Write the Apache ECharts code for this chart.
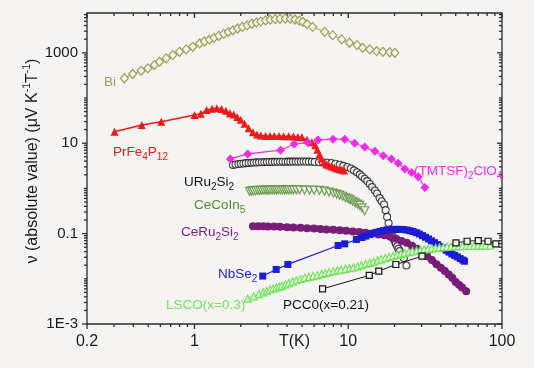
<!DOCTYPE html>
<html><head><meta charset="utf-8">
<script src="https://cdn.jsdelivr.net/npm/echarts@6/dist/echarts.min.js"></script>
<style>html,body{margin:0;padding:0;background:#f5f4f2;}#c{width:534px;height:368px;}</style>
</head><body><div id="c"></div>
<script>
// ---- data: [T (K), |nu| (uV K^-1 T^-1)] ----
const bi = [[0.35,273],[0.396,340],[0.45,401],[0.497,453],[0.548,536],[0.592,634],[0.654,753],[0.723,891],[0.799,1054],[0.883,1190],[0.975,1358],[1.08,1610],[1.16,1780],[1.25,1950],[1.34,2150],[1.44,2380],[1.55,2620],[1.66,2880],[1.78,3150],[1.91,3450],[2.05,3750],[2.2,4050],[2.36,4400],[2.53,4700],[2.7,4950],[2.9,5200],[3.1,5400],[3.35,5550],[3.6,5650],[3.9,5700],[4.2,5650],[4.5,5450],[4.8,5150],[5.06,4850],[5.4,4300],[5.87,3750],[7.03,2910],[7.93,2460],[9.07,1980],[10.2,1670],[11.4,1480],[12.4,1290],[13.8,1190],[15.3,1090],[16.8,1054],[18.6,1030],[20.1,1000]];
const prFe4P12 = [[0.302,18],[0.454,25.4],[0.608,30],[1.0,42],[1.1,45],[1.2,54],[1.3,58],[1.4,59],[1.5,57],[1.6,52],[1.7,46],[1.8,43],[1.9,38],[2.0,33],[2.12,27],[2.25,21.5],[2.4,17.5],[2.55,15.5],[2.7,14.8],[2.9,14.5],[3.1,14.5],[3.3,14.5],[3.55,14.4],[3.8,14.3],[4.1,14.2],[4.4,14],[4.7,13.8],[5.0,13.5],[5.4,12],[5.8,10.5],[6.1,9],[6.3,7.2],[6.5,5.6],[6.7,4.6],[6.95,3.8],[7.2,3.4],[7.5,3.2],[7.8,3.05],[8.1,2.9],[8.4,2.75],[8.75,2.65],[9.1,2.58],[9.4,2.5]];
const tmtsf = [[1.71,4.5],[2.22,5.8],[3.63,7.0],[4.45,9.6],[5.46,10.2],[6.36,11.8],[7.96,12.3],[9.48,12.3],[11.0,10],[12.8,8.2],[14.9,6.6],[16.9,5.3],[19.1,4.5],[21.1,3.6],[23.3,2.7],[25.8,2.25],[28.5,1.82],[31.5,1.05]];
const uru2si2 = [[1.78,3.3],[1.85,3.38],[1.93,3.46],[2.0,3.52],[2.08,3.57],[2.16,3.62],[2.25,3.66],[2.34,3.7],[2.43,3.73],[2.53,3.76],[2.63,3.78],[2.74,3.8],[2.85,3.82],[2.96,3.84],[3.08,3.85],[3.2,3.86],[3.33,3.87],[3.46,3.88],[3.6,3.89],[3.75,3.9],[3.9,3.9],[4.05,3.91],[4.2,3.91],[4.37,3.92],[4.55,3.92],[4.73,3.92],[4.92,3.93],[5.12,3.93],[5.32,3.93],[5.55,3.92],[5.8,3.9],[6.05,3.85],[6.45,3.8],[6.85,3.75],[7.3,3.7],[7.77,3.64],[8.25,3.5],[8.8,3.34],[9.3,3.15],[9.87,2.97],[10.4,2.75],[10.9,2.5],[11.4,2.28],[11.9,2.04],[12.3,1.84],[12.8,1.64],[13.3,1.45],[13.8,1.25],[14.3,1.07],[14.9,0.9],[15.4,0.77],[16.0,0.61],[16.5,0.52],[17.1,0.44],[17.5,0.33],[17.9,0.234],[18.3,0.17],[18.6,0.123],[19.0,0.1],[19.4,0.087],[19.7,0.077],[20.1,0.068],[20.4,0.06],[20.8,0.0526],[21.2,0.046],[21.6,0.041],[22.3,0.034],[23.0,0.029],[23.9,0.0197]];
const cecoin5 = [[2.28,0.86],[2.35,0.87],[2.42,0.88],[2.5,0.89],[2.58,0.9],[2.66,0.9],[2.74,0.91],[2.83,0.91],[2.92,0.92],[3.01,0.92],[3.1,0.92],[3.2,0.93],[3.3,0.93],[3.4,0.93],[3.5,0.93],[3.62,0.93],[3.74,0.93],[3.86,0.93],[3.98,0.93],[4.1,0.93],[4.25,0.93],[4.4,0.93],[4.6,0.93],[4.83,0.93],[5.2,0.92],[5.6,0.92],[6.0,0.91],[6.5,0.9],[7.0,0.87],[7.5,0.83],[8.0,0.79],[8.4,0.75],[8.8,0.71],[9.2,0.67],[9.6,0.62],[10.0,0.59],[10.3,0.56],[10.7,0.52],[11.1,0.48],[11.5,0.45],[11.9,0.42],[12.3,0.37],[12.8,0.32]];
const ceru2si2 = [[2.4,0.145],[2.6,0.146],[2.8,0.145],[3.0,0.144],[3.3,0.143],[3.6,0.141],[4.0,0.139],[4.4,0.137],[4.9,0.135],[5.4,0.132],[6.0,0.129],[6.6,0.126],[7.2,0.123],[8.0,0.121],[8.8,0.119],[9.7,0.116],[10.7,0.112],[11.8,0.108],[13.0,0.104],[14.3,0.1],[15.7,0.096],[17.2,0.092],[18.8,0.085],[20.5,0.077],[22.2,0.069],[24.0,0.0625],[26.0,0.054],[28.0,0.046],[30.2,0.039],[32.5,0.0316],[35,0.026],[37.5,0.021],[40,0.0175],[42.5,0.0148],[45,0.0125],[47.5,0.0105],[50,0.0085],[52.5,0.0074],[55,0.0064],[58.5,0.0053]];
const nbse2 = [[2.78,0.0115],[3.40,0.0161],[4.05,0.0208],[8.59,0.0545],[9.48,0.0594],[11.3,0.074],[12.3,0.082],[13.0,0.088],[13.8,0.095],[14.5,0.101],[15.3,0.107],[16.1,0.112],[17.0,0.117],[17.9,0.121],[18.8,0.123],[19.8,0.124],[20.8,0.124],[21.8,0.124],[22.9,0.123],[24.0,0.12],[25.2,0.116],[26.4,0.111],[27.7,0.105],[29.0,0.098],[30.4,0.09],[31.8,0.083],[33.3,0.076],[34.8,0.069],[36.4,0.063],[38.1,0.057],[39.8,0.052],[41.5,0.048],[43.3,0.043],[45.2,0.039],[47.2,0.0355],[49.2,0.033],[51.3,0.0305],[53.5,0.028],[55.6,0.026],[57,0.0245]];
const lsco = [[2.22,0.00363],[2.42,0.0041],[2.62,0.0046],[2.8,0.005],[2.95,0.0054],[3.1,0.0058],[3.25,0.0061],[3.4,0.0064],[3.55,0.0067],[3.7,0.007],[3.9,0.0075],[4.1,0.008],[4.35,0.0087],[4.6,0.0093],[4.9,0.0099],[5.2,0.0105],[5.55,0.011],[5.9,0.0115],[6.3,0.012],[6.7,0.0127],[7.1,0.0134],[7.5,0.014],[8.0,0.0148],[8.5,0.0154],[9.0,0.016],[9.6,0.0166],[10.2,0.0172],[10.8,0.0178],[11.5,0.0188],[12.2,0.02],[13.0,0.0213],[13.8,0.0226],[14.6,0.024],[15.5,0.0255],[16.4,0.027],[17.4,0.0287],[18.5,0.0305],[19.6,0.0323],[20.8,0.034],[22,0.0357],[23.3,0.0373],[24.7,0.039],[26.2,0.0405],[27.8,0.042],[29.5,0.0435],[31.2,0.0448],[33,0.046],[35,0.0472],[37,0.0483],[39.2,0.0493],[41.5,0.0502],[44,0.051],[46.6,0.0517],[49.4,0.0522],[52.3,0.0527],[55.4,0.053],[58.7,0.0533],[62.2,0.0536],[65.9,0.0538],[69.8,0.054],[74,0.0542],[78.4,0.0543],[83.6,0.0545]];
const pcc0 = [[6.81,0.006],[13.7,0.0119],[15.8,0.0148],[20.4,0.0207],[30.2,0.0316],[50.2,0.0625],[59.3,0.0678],[70.1,0.070],[81.1,0.0678],[91.2,0.0594]];

// ---- axes ----
const xTickValues = [0.2, 1, 10, 100];
const xTickLabels = ['0.2', '1', '10', '100'];
const yTickValues = [0.001, 0.1, 10, 1000];
const yTickLabels = ['1E-3', '0.1', '10', '1000'];
const xMinorTicks = [0.3,0.4,0.5,0.6,0.7,0.8,0.9,2,3,4,5,6,7,8,9,20,30,40,50,60,70,80,90];
const yMinorTicks = [0.002,0.003,0.004,0.005,0.006,0.007,0.008,0.009,0.01,0.02,0.03,0.04,0.05,0.06,0.07,0.08,0.09,
  0.2,0.3,0.4,0.5,0.6,0.7,0.8,0.9,1,2,3,4,5,6,7,8,9,20,30,40,50,60,70,80,90,100,200,300,400,500,600,700,800,900,
  2000,3000,4000,5000,6000,7000];
const X_MIN = 0.2, X_MAX = 100, Y_MIN = 0.001, Y_MAX = 7600;

const FONT = "'Liberation Sans', Arial, Helvetica, sans-serif";
const BG = '#f5f4f2';
const AX = '#2b2b2b';
const C = {bi:'#a19d4f', pr:'#ec1b1b', tm:'#f02ce6', uru:'#141414', cc:'#4f8b30', cr:'#7a1d79',
  nb:'#1c1cd8', lsco:'#6de654', pcc:'#141414'};
const GRID = {left: 87, right: 32, top: 13, bottom: 44};
const W = 534, H = 368;

function fmt(vals, labs) {
  return function (v) {
    for (let i = 0; i < vals.length; i++) {
      if (Math.abs(Math.log10(v / vals[i])) < 1e-6) return labs[i];
    }
    return '';
  };
}

function ser(type, name, data, color, symbol, size, open, lw, rot) {
  return {
    type: type, name: name, data: data, symbol: symbol, symbolSize: size,
    symbolRotate: rot || 0, showSymbol: true, animation: false, silent: true,
    itemStyle: {color: open ? BG : color, borderColor: color, borderWidth: open ? 1.2 : 0},
    lineStyle: {color: color, width: lw}
  };
}

const annRich = {
  n: {fontSize: 13.5, lineHeight: 20, fontFamily: FONT},
  s: {fontSize: 10, lineHeight: 8, verticalAlign: 'bottom', fontFamily: FONT}
};
const annotations = [
  {text: '{n|Bi}', x: 104, y: 82.5, color: C.bi},
  {text: '{n|PrFe}{s|4}{n|P}{s|12}', x: 113, y: 152, color: C.pr},
  {text: '{n|(TMTSF)}{s|2}{n|ClO}{s|4}', x: 414, y: 171.5, color: C.tm},
  {text: '{n|URu}{s|2}{n|Si}{s|2}', x: 184, y: 182, color: '#111'},
  {text: '{n|CeCoIn}{s|5}', x: 194, y: 205, color: C.cc},
  {text: '{n|CeRu}{s|2}{n|Si}{s|2}', x: 181, y: 232, color: C.cr},
  {text: '{n|NbSe}{s|2}', x: 218, y: 274, color: C.nb},
  {text: '{n|LSCO(x=0.3)}', x: 166, y: 305, color: C.lsco},
  {text: '{n|PCC0(x=0.21)}', x: 283, y: 305.5, color: '#111'}
];

const graphic = annotations.map(a => ({
  type: 'text', x: a.x, y: a.y, silent: true, z: 100,
  style: {text: a.text, fill: a.color, align: 'left', verticalAlign: 'middle', rich: annRich}
}));
graphic.push({
  type: 'text', x: 33, y: 161, rotation: Math.PI / 2, silent: true,
  style: {
    text: '{n|ν (absolute value) (μV K}{p|-1}{n|T}{p|-1}{n|)}',
    fill: '#1a1a1a', align: 'center', verticalAlign: 'middle',
    rich: {
      n: {fontSize: 16, lineHeight: 22, fontFamily: FONT},
      p: {fontSize: 10.5, lineHeight: 12, verticalAlign: 'top', fontFamily: FONT}
    }
  }
});

const chart = echarts.init(document.getElementById('c'), null, {renderer: 'canvas'});
chart.setOption({
  backgroundColor: BG,
  animation: false,
  grid: {left: GRID.left, right: GRID.right, top: GRID.top, bottom: GRID.bottom, show: true, borderColor: AX, borderWidth: 1.3,
    backgroundColor: 'transparent', containLabel: false, outerBoundsMode: 'none'},
  xAxis: {
    type: 'log', logBase: 10, min: X_MIN, max: X_MAX,
    axisLine: {show: false}, axisTick: {show: false}, splitLine: {show: false},
    axisLabel: {formatter: fmt(xTickValues, xTickLabels), fontSize: 16, margin: 10, color: '#1a1a1a', fontFamily: FONT},
    name: 'T(K)', nameLocation: 'middle', nameGap: 10, nameMoveOverlap: false,
    nameTextStyle: {fontSize: 16, color: '#1a1a1a', fontFamily: FONT}
  },
  yAxis: {
    type: 'log', logBase: 10, min: Y_MIN, max: Y_MAX,
    axisLine: {show: false}, axisTick: {show: false}, splitLine: {show: false},
    axisLabel: {formatter: fmt(yTickValues, yTickLabels), fontSize: 15, margin: 9, color: '#1a1a1a', fontFamily: FONT}
  },
  series: [
    ser('line', 'Bi', bi, C.bi, 'diamond', [8, 9], true, 1),
    ser('line', 'PrFe4P12', prFe4P12, C.pr, 'triangle', 8, false, 1.5),
    ser('line', '(TMTSF)2ClO4', tmtsf, C.tm, 'diamond', 9, false, 1.2),
    ser('scatter', 'CeCoIn5', cecoin5, C.cc, 'triangle', 8, true, 0, 180),
    Object.assign(ser('line', 'CeRu2Si2', ceru2si2, C.cr, 'circle', 8, false, 6), {lineStyle: {color: C.cr, width: 6, cap: 'round'}}),
    ser('line', 'NbSe2', nbse2, C.nb, 'rect', 7, false, 1.2),
    ser('line', 'LSCO(x=0.3)', lsco, C.lsco, 'triangle', 7, true, 1),
    ser('line', 'PCC0(x=0.21)', pcc0, C.pcc, 'rect', 6, true, 1),
    Object.assign(ser('scatter', 'URu2Si2', uru2si2, C.uru, 'circle', 7, true, 0), {itemStyle: {color: '#ffffff', borderColor: C.uru, borderWidth: 1.1}})
  ]
});

// ---- tick marks: positions from the chart's own log axes, frame edges from the grid box ----
const edgeL = GRID.left, edgeR = W - GRID.right, edgeT = GRID.top, edgeB = H - GRID.bottom;
function xPix(v) {
  let p = NaN;
  try { p = chart.convertToPixel({xAxisIndex: 0}, v); } catch (e) {}
  if (Array.isArray(p)) p = p[0];
  if (!isFinite(p)) p = (v <= X_MIN * 1.0001) ? edgeL : edgeR;
  return p;
}
function yPix(v) {
  let p = NaN;
  try { p = chart.convertToPixel({yAxisIndex: 0}, v); } catch (e) {}
  if (Array.isArray(p)) p = p[1];
  if (!isFinite(p)) p = (v <= Y_MIN * 1.0001) ? edgeB : edgeT;
  return p;
}
const TW = 1.3;
function tickRect(x, y, w, h) {
  return {type: 'rect', shape: {x: x, y: y, width: w, height: h}, style: {fill: AX}};
}
const tickEls = [];
function addX(v, L) {
  const x = xPix(v);
  tickEls.push(tickRect(x - TW / 2, edgeB, TW, L));   // bottom: outward
  tickEls.push(tickRect(x - TW / 2, edgeT, TW, L));   // top: inward
}
function addY(v, L) {
  const y = yPix(v);
  tickEls.push(tickRect(edgeL - L, y - TW / 2, L, TW));   // left: outward
  tickEls.push(tickRect(edgeR - L, y - TW / 2, L, TW));   // right: inward
}
xTickValues.forEach(v => addX(v, 5));
xMinorTicks.forEach(v => addX(v, 3));
yTickValues.forEach(v => addY(v, 5));
yMinorTicks.forEach(v => addY(v, 3));
chart.setOption({graphic: tickEls.concat(graphic)});
</script></body></html>
